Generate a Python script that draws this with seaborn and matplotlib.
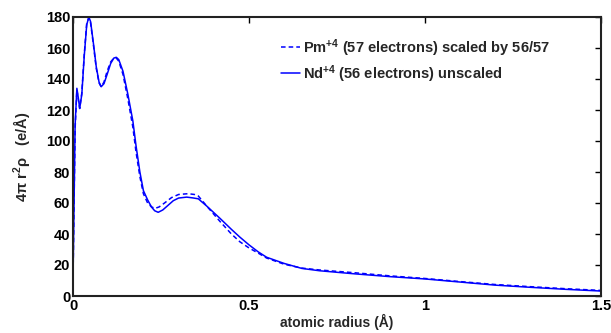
import numpy as np
import pandas as pd
import matplotlib
matplotlib.use("Agg")
import matplotlib.pyplot as plt
import seaborn as sns

# Nd+4 (solid)
r_nd = [0.0, 0.003, 0.006, 0.011, 0.015, 0.019, 0.025, 0.032, 0.039, 0.045, 0.050,
        0.058, 0.066, 0.074, 0.080, 0.088, 0.097, 0.107, 0.116, 0.123, 0.130, 0.142,
        0.156, 0.170, 0.179, 0.190, 0.200, 0.212, 0.223, 0.232, 0.242, 0.255, 0.270,
        0.285, 0.300, 0.323, 0.340, 0.356, 0.380, 0.418, 0.450, 0.474, 0.500, 0.526,
        0.550, 0.600, 0.650, 0.700, 0.800, 0.900, 1.000, 1.100, 1.200, 1.300, 1.400, 1.500]
v_nd = [10, 60, 110, 134, 128, 121, 130, 155, 175, 180, 177,
        163, 148, 138, 135, 137, 143, 150, 153.5, 154, 152.5, 145,
        130, 113, 97, 80, 68, 62, 57.4, 55, 54, 55.5, 58.5,
        61.5, 63.2, 63.8, 63.3, 62.7, 58, 50, 43, 38, 33, 28.5,
        25, 21, 17.8, 16.3, 14.3, 12.5, 11, 9, 7, 5.6, 4.3, 3.2]

# Pm+4 scaled (dashed)
r_pm = [0.0, 0.003, 0.006, 0.011, 0.015, 0.019, 0.025, 0.032, 0.039, 0.045, 0.050,
        0.058, 0.066, 0.074, 0.080, 0.088, 0.097, 0.107, 0.116, 0.123, 0.130, 0.142,
        0.156, 0.170, 0.179, 0.190, 0.200, 0.212, 0.223, 0.233, 0.245, 0.260, 0.280,
        0.300, 0.327, 0.345, 0.356, 0.380, 0.418, 0.450, 0.474, 0.500, 0.526, 0.550,
        0.600, 0.650, 0.700, 0.800, 0.900, 1.000, 1.100, 1.200, 1.300, 1.400, 1.500]
v_pm = [10, 60, 108, 133, 127, 121, 131, 156, 176, 179.5, 176,
        162, 147, 137.5, 135, 138, 145, 151, 153.5, 153.5, 151.5, 143,
        127, 109, 93, 77, 66, 60, 57.5, 56.5, 57.5, 60, 63.5,
        65.5, 66, 65.5, 64.5, 58, 48, 40, 35, 31, 27.7, 24.5,
        20.5, 18, 16.8, 15, 13, 11.3, 9.3, 7.4, 6, 4.7, 3.6]

x_ticks = [0, 0.5, 1, 1.5]
x_tick_labels = ["0", "0.5", "1", "1.5"]
y_ticks = list(range(0, 181, 20))

lbl_pm = r"Pm$^{\mathbf{+4}}$ (57 electrons) scaled by 56/57"
lbl_nd = r"Nd$^{\mathbf{+4}}$ (56 electrons) unscaled"

sns.set_style("white")
plt.rcParams["font.family"] = ["Liberation Sans", "DejaVu Sans"]
plt.rcParams["font.weight"] = "bold"
plt.rcParams["mathtext.fontset"] = "custom"
plt.rcParams["mathtext.rm"] = "Liberation Sans:bold"
plt.rcParams["mathtext.bf"] = "Liberation Sans:bold"
plt.rcParams["mathtext.it"] = "Liberation Sans"

df_pm = pd.DataFrame({"r": r_pm, "v": v_pm})
df_nd = pd.DataFrame({"r": r_nd, "v": v_nd})

fig = plt.figure(figsize=(6.11, 3.33), dpi=100)
ax = fig.add_axes([73 / 611, 1 - 296 / 333, (601 - 73) / 611, (296 - 17) / 333])

sns.lineplot(data=df_pm, x="r", y="v", ax=ax, color="#0000ff", linewidth=1.1,
             linestyle=(0, (3, 2)), label=lbl_pm, sort=False)
sns.lineplot(data=df_nd, x="r", y="v", ax=ax, color="#0000ff", linewidth=1.1,
             linestyle="-", label=lbl_nd, sort=False)

ax.set_xlim(0, 1.5)
ax.set_ylim(0, 180)
ax.set_xticks(x_ticks)
ax.set_xticklabels(x_tick_labels)
ax.set_yticks(y_ticks)
ax.tick_params(direction="in", length=4, width=1, top=True, right=True,
               labelsize=10.5, pad=2, colors="black")
for lab in ax.get_xticklabels() + ax.get_yticklabels():
    lab.set_fontweight("bold")
for s in ax.spines.values():
    s.set_linewidth(1.5)
    s.set_color("#222222")

ax.set_xlabel("atomic radius (Å)", fontsize=10, fontweight="bold", labelpad=1)
ax.set_ylabel(r"4$\pi$ r$^{\mathbf{2}}$$\rho$   (e/Å)", fontsize=10.5,
              fontweight="bold", labelpad=10)

leg = ax.legend(loc="upper left", bbox_to_anchor=(281 / 611, 1 - 37 / 333),
                bbox_transform=fig.transFigure, frameon=False, fontsize=10.5,
                handlelength=1.3, handletextpad=0.2, labelspacing=0.3,
                borderaxespad=0, borderpad=0)
for t in leg.get_texts():
    t.set_fontweight("bold")

fig.savefig("out.png", dpi=100)
